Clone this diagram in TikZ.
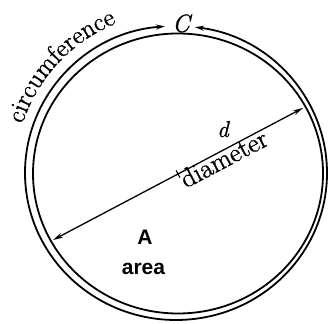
\documentclass[tikz,border=0pt]{standalone}
\usepackage{fontspec}
\newfontfamily\sansf{Liberation Sans}
\newfontfamily\heavy{Latin Modern Roman}[FakeBold=1.2, ItalicFeatures={FakeBold=1.2}]
\usetikzlibrary{arrows.meta,decorations.text}
\begin{document}
\begin{tikzpicture}[x=1pt,y=1pt,
  circ/.style={line width=1.8pt},
  tipc/.style={{Stealth[length=9pt,width=5pt]}-{Stealth[length=9pt,width=5pt]}},
  tipd/.style={{Stealth[length=10pt,width=5pt]}-{Stealth[length=10pt,width=5pt]}},
  serif/.style={font=\heavy\fontsize{#1}{#1}\selectfont},
  serifit/.style={font=\heavy\itshape\fontsize{#1}{#1}\selectfont},
  sanslab/.style={font=\sansf\bfseries\fontsize{#1}{#1}\selectfont},
  ]
\useasboundingbox (0,0) rectangle (331,323);
\coordinate (Oi) at (178,149.5);
\coordinate (Oo) at (176,150);
% inner circle
\draw[circ] (Oi) ellipse[x radius=145, y radius=140];
% circumference arrows
\draw[circ, tipc] (Oo) ++(94.2:151 and 147)
  arc[start angle=94.2, end angle=442.8, x radius=151, y radius=147];
% diameter
\coordinate (P1) at (53,83);
\coordinate (P2) at (303,215);
\draw[line width=1.3pt, tipd] (P1) -- (P2);
\coordinate (M) at (178,149);
\draw[line width=1.2pt] (M) ++(117.8:4) -- ++(297.8:8);
% labels
\node[serifit=23, anchor=base, inner sep=0pt] (dlab) at (223,186) {d};
\node[serif=27, anchor=base, rotate=27.8, inner sep=0pt] (diam) at (228,156.5) {diameter};
\node[serifit=25, anchor=base, inner sep=0pt] (C) at (181,291) {C};
\node[sanslab=21, anchor=base, inner sep=0pt] (A) at (145,78) {A};
\node[sanslab=21, anchor=base, inner sep=0pt] (area) at (143.5,48) {area};
\path[decorate, decoration={text along path, text align=center,
  text={|\heavy\fontsize{26}{26}\selectfont|circumference}}]
  (Oo) ++(172:161) arc[start angle=172, end angle=102, radius=161];
\end{tikzpicture}
\end{document}
